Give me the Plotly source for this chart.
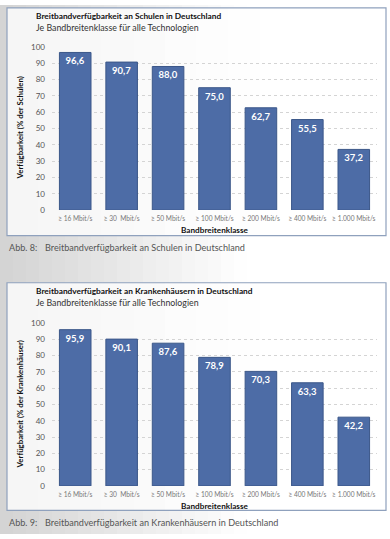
import plotly.graph_objects as go
from plotly.subplots import make_subplots

categories = ["≥ 16 Mbit/s", "≥ 30\u00a0 Mbit/s", "≥ 50 Mbit/s", "≥ 100 Mbit/s",
              "≥ 200 Mbit/s", "≥ 400 Mbit/s", "≥ 1.000 Mbit/s"]
schulen = [96.6, 90.7, 88.0, 75.0, 62.7, 55.5, 37.2]
krankenhaeuser = [95.9, 90.1, 87.6, 78.9, 70.3, 63.3, 42.2]
y_ticks = [0, 10, 20, 30, 40, 50, 60, 70, 80, 90, 100]

titles = ["Breitbandverfügbarkeit an Schulen in Deutschland",
          "Breitbandverfügbarkeit an Krankenhäusern in Deutschland"]
subtitle = "Je Bandbreitenklasse für alle Technologien"
y_titles = ["Verfügbarkeit (% der Schulen)", "Verfügbarkeit (% der Krankenhäuser)"]
x_title = "Bandbreitenklasse"
captions = ["Abb. 8:", "Abb. 9:"]
caption_texts = ["Breitbandverfügbarkeit an Schulen in Deutschland",
                 "Breitbandverfügbarkeit an Krankenhäusern in Deutschland"]

W, H = 390, 539
FONT = "Lato"
BAR = "#4d6ca6"
BAR_LINE = "#3b5789"


def py(p):
    return 1 - p / H


def px(p):
    return p / W


fig = make_subplots(rows=2, cols=1)

for i, vals in enumerate([schulen, krankenhaeuser]):
    fig.add_trace(go.Bar(
        x=categories, y=vals,
        marker=dict(color=BAR, line=dict(color=BAR_LINE, width=1)),
        text=[f"{v:.1f}".replace(".", ",") for v in vals],
        textposition="inside", insidetextanchor="end",
        textfont=dict(family=FONT, size=9.5, color="white", weight="bold"),
        textangle=0, cliponaxis=False, showlegend=False,
    ), row=i + 1, col=1)

plot_tops = [42.7, 324]
plot_bottoms = [209, 490]
frames = [(3, 235), (283, 515)]

shapes = []
n = 30
for k in range(n):
    t = k / (n - 1)
    g = int(212 + (255 - 212) * min(1, t * 1.6))
    shapes.append(dict(type="rect", xref="paper", yref="paper",
                       x0=k / n, x1=(k + 1) / n + 0.002, y0=0, y1=1,
                       fillcolor=f"rgb({g},{g},{g})", line=dict(width=0), layer="below"))
annotations = []
for i in range(2):
    ft, fb = frames[i]
    m = 12
    for k in range(m):
        t = k / (m - 1)
        g = int(246 + (255 - 246) * min(1, t * 1.5))
        x0 = 7 + (386 - 7) * k / m
        x1 = 7 + (386 - 7) * (k + 1) / m + 1
        shapes.append(dict(type="rect", xref="paper", yref="paper",
                           x0=px(x0), x1=px(min(x1, 386)), y0=py(fb), y1=py(ft),
                           fillcolor=f"rgb({g},{g},{g})", line=dict(width=0), layer="below"))
    shapes.append(dict(type="rect", xref="paper", yref="paper",
                       x0=px(7), x1=px(386), y0=py(fb), y1=py(ft),
                       line=dict(color="#8fa1bd", width=1.2), fillcolor="rgba(0,0,0,0)", layer="below"))
    annotations.append(dict(text=titles[i], x=px(34), y=py(ft + 8), xref="paper", yref="paper",
                            xanchor="left", yanchor="middle", showarrow=False,
                            font=dict(family=FONT, size=8.3, color="#111111", weight="bold")))
    annotations.append(dict(text=subtitle, x=px(34), y=py(ft + 20), xref="paper", yref="paper",
                            xanchor="left", yanchor="middle", showarrow=False,
                            font=dict(family=FONT, size=8.8, color="#333333")))
    annotations.append(dict(text=y_titles[i], x=px(20), y=py((plot_tops[i] + plot_bottoms[i]) / 2),
                            xref="paper", yref="paper", textangle=-90, xanchor="center",
                            yanchor="middle", showarrow=False,
                            font=dict(family=FONT, size=7.8, color="#111111", weight="bold")))
    annotations.append(dict(text=x_title, x=px(215), y=py(plot_bottoms[i] + 20),
                            xref="paper", yref="paper", xanchor="center", yanchor="middle",
                            showarrow=False,
                            font=dict(family=FONT, size=8.2, color="#111111", weight="bold")))
    cy = fb + 12
    annotations.append(dict(text=captions[i], x=px(7), y=py(cy), xref="paper", yref="paper",
                            xanchor="left", yanchor="middle", showarrow=False,
                            font=dict(family=FONT, size=9.1, color="#555555")))
    annotations.append(dict(text=caption_texts[i], x=px(43), y=py(cy), xref="paper", yref="paper",
                            xanchor="left", yanchor="middle", showarrow=False,
                            font=dict(family=FONT, size=9.1, color="#555555")))

axis_common = dict(showline=False, zeroline=False)
for i in range(2):
    r = i + 1
    fig.update_xaxes(row=r, col=1, domain=[px(52), px(377)], showgrid=False,
                     tickfont=dict(family=FONT, size=6.6, color="#777777"),
                     tickangle=0, ticks="", ticklabelstandoff=3, **axis_common)
    fig.update_yaxes(row=r, col=1, domain=[py(plot_bottoms[i]), py(plot_tops[i])],
                     range=[0, 100], tickvals=y_ticks, showgrid=True,
                     gridcolor="#d4d4d4", griddash="dot", gridwidth=1,
                     tickfont=dict(family=FONT, size=8, color="#555555"),
                     ticks="", ticklabelstandoff=6, **axis_common)

fig.update_layout(
    width=W, height=H, margin=dict(l=0, r=0, t=0, b=0),
    paper_bgcolor="white", plot_bgcolor="rgba(0,0,0,0)",
    bargap=0.32, shapes=shapes, annotations=annotations,
    uniformtext=dict(minsize=6, mode="show"),
)

fig.write_html("out.html")
